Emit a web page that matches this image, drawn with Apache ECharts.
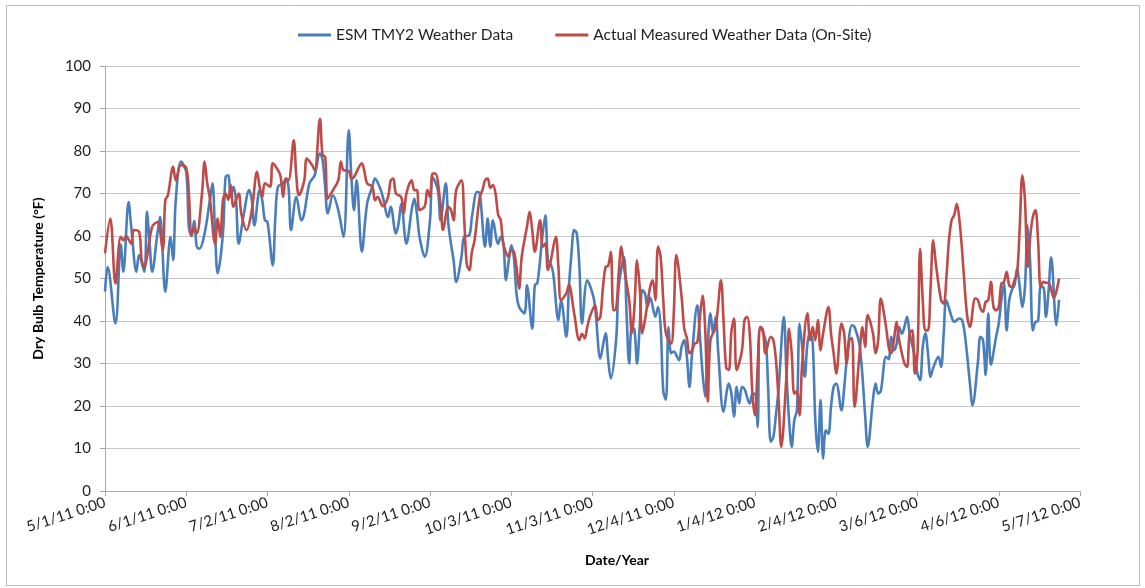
<!DOCTYPE html>
<html>
<head>
<meta charset="utf-8">
<title>Dry Bulb Temperature Comparison</title>
<script src="https://cdn.jsdelivr.net/npm/echarts@6/dist/echarts.min.js"></script>
<style>
  html, body { margin: 0; padding: 0; background: #ffffff; }
  #chart { width: 1145px; height: 588px; }
</style>
</head>
<body>
<div id="chart"></div>
<script>
// Days are counted from 1 May 2011 (day 0); the x axis runs in 31-day steps.
const tickLabels = ['5/1/11 0:00', '6/1/11 0:00', '7/2/11 0:00', '8/2/11 0:00', '9/2/11 0:00',
  '10/3/11 0:00', '11/3/11 0:00', '12/4/11 0:00', '1/4/12 0:00', '2/4/12 0:00',
  '3/6/12 0:00', '4/6/12 0:00', '5/7/12 0:00'];
const yTicks = [0, 10, 20, 30, 40, 50, 60, 70, 80, 90, 100];

const seriesNames = ['ESM TMY2 Weather Data', 'Actual Measured Weather Data (On-Site)'];

// ESM TMY2 weather file: day offset and dry bulb temperature (°F)
const tmyDay = [0,1,4,6,7,9,10,12,13,15,16,17,18,20,21,23,25,26,27,29,31,32,33,34,35,36,38,40,41,42,43,45,46,47,48,49,50,51,53,55,56,57,59,60,61,62,64,65,66,68,69,
  70,71,73,75,76,78,80,82,83,84,85,87,89,91,93,94,95,96,98,100,102,103,105,106,108,109,111,112,113,115,117,118,119,120,122,124,125,127,128,130,131,132,133,134,136,137,139,140,
  142,143,145,146,147,148,150,151,152,153,154,155,156,157,158,160,161,163,164,165,167,168,169,170,171,173,174,176,177,178,179,180,181,182,184,186,187,189,190,191,192,193,195,196,198,199,
  200,201,202,203,204,205,206,207,208,210,211,212,213,214,215,216,217,219,220,221,222,223,224,226,227,228,229,230,231,232,233,234,236,238,239,240,241,242,243,244,246,247,248,249,
  250,252,253,254,255,256,257,259,260,261,262,263,264,265,266,267,268,269,270,271,272,273,274,275,276,277,278,279,281,282,283,285,286,288,290,291,293,294,295,296,298,299,
  300,301,302,303,304,305,306,307,309,310,311,312,313,314,315,316,318,319,320,321,323,324,326,327,328,329,330,331,333,334,335,336,337,338,340,341,342,343,344,345,346,347,348,349,
  350,351,352,353,354,355,356,357,358,359,360,361,363,364];
const tmyTemp = [46.9,52.7,39.4,58,51.6,68,62.2,51.6,55.5,51.6,65.7,58.5,51.6,60.6,64.5,46.9,59.8,54.3,68.4,77.5,75,62,60,63.5,57.5,57,60.6,68.4,72.4,60.6,51.2,60.6,73.9,74.3,69.2,71.6,68.4,58.2,65.3,70.8,68.5,62.5,70.8,68.4,63.7,63.3,53.1,64.5,71.6,72.4,73.5,
  71.6,61.4,69.2,63.7,65.3,72.4,74.3,79.4,78,71.6,65.3,69.6,66.1,59.8,84.9,73.9,66.1,73.1,56.3,67.6,71.6,73.5,71.2,69.2,64.5,66.9,60.6,62.9,67.6,58.2,66.1,68.8,65.3,59.8,55.1,63.7,73.9,70.8,63.7,72.4,62.9,58.2,54.3,49.2,55.1,59.8,60.2,64.5,
  70.4,70,57.5,64.1,57.5,63.7,58.2,59.8,58.2,49.6,54,57.8,55,46.5,43.3,41.8,48.4,38.2,48.4,49,60.6,64.9,54.3,53.5,51.2,40.2,44.9,36.3,48,56,61.4,60.6,52.7,39.4,49.6,46.5,43.3,31.2,34.3,37.1,30.8,26.5,35.5,48,55.1,41.8,
  30,38.6,38,30,38.6,47.3,46.5,43.3,45.5,41,43.3,38.6,23.5,21.5,38.6,32.4,32.8,30.8,33.9,35.5,31.6,24.5,32.4,43.7,36.3,27.6,22.2,34.7,41.8,37.1,41,32.4,18.6,25.3,22.9,17.5,24.5,20.6,24.5,24,20.6,22.9,22.9,15,
  38.6,35.5,24.5,11.6,12.7,18,24,41,27.6,16.7,10.4,16.7,19,39.4,33.9,26.9,34.7,37.1,35,16.7,9.2,21.4,7.6,14.3,13.5,19.8,24.5,25.3,19,24,30.8,39,38.6,33.9,18,10.4,21.4,25.3,22.9,23.5,31.6,31,
  36.3,33.1,34.5,38.6,37,38.6,41,37.1,31.6,27.6,26.1,33.9,37.1,32.4,26.9,29,31.6,29.2,37.1,44.9,41,39.8,40.6,40.2,37.1,31.6,25.3,20.2,30,36.3,35.5,27.3,41.8,29.7,36.3,39.4,45,48.8,37.8,44.9,47.3,48.4,52.4,48,
  43.3,48,62.5,53.5,37.8,39.8,40,48,48,41,47,55,39,45];

// On-site measurements: day offset and dry bulb temperature (°F)
const siteDay = [0,2,4,6,7,8,10,11,13,14,15,16,18,20,22,23,24,26,27,29,31,32,33,34,35,37,38,39,40,42,43,44,45,46,47,48,49,51,52,54,56,58,59,60,61,63,64,66,67,68,69,
  70,72,73,74,76,77,79,80,82,83,84,85,87,89,90,91,93,94,95,98,99,100,102,103,104,106,108,109,110,111,113,114,115,117,118,119,120,122,123,124,125,126,128,129,131,132,133,134,136,137,138,139,140,141,
  143,144,145,146,147,148,149,150,151,152,154,155,156,157,158,159,161,162,163,164,166,167,168,169,170,172,173,174,176,177,179,181,182,183,184,185,187,188,189,190,191,192,193,194,195,196,197,198,
  200,201,202,203,204,205,206,208,209,210,211,212,213,214,216,217,218,220,221,222,223,224,225,226,227,228,229,230,231,233,235,236,237,238,239,240,241,243,244,245,246,247,248,249,
  250,251,252,254,255,256,257,258,260,261,262,263,264,265,266,268,269,270,271,272,273,274,276,277,278,279,281,282,283,284,285,286,288,289,290,291,293,294,295,296,298,299,
  300,301,302,303,305,306,307,308,309,310,311,312,313,314,315,316,317,319,320,321,322,323,324,325,326,327,328,329,330,332,333,334,335,336,337,338,339,340,341,342,343,344,345,346,347,348,349,
  350,351,352,353,354,355,356,357,358,359,360,362,364];
const siteTemp = [55.9,64.1,48.8,59.8,59,60,58.2,61.4,61,54.3,52.7,55,62.2,63.3,56.7,68.4,69.6,76.3,73.1,76.7,76,70,60,62,60.6,70,77.5,72.4,69,58.2,64.1,59.8,68.4,70,68.5,72,66.9,70,65.3,61.4,66,75.1,71.6,69.2,72.4,71.6,77.1,75.5,74,69.2,73.5,
  73.1,82.5,74,69.6,73,78.2,76.7,75.5,87.6,79,78.6,68.8,70.8,73.1,77.5,75.5,75.3,73.5,73.9,77.1,75.1,72.4,71.6,68.4,69.2,67,69.2,73.1,73.5,70,69.2,65.3,70,73.1,70.8,70.8,66.1,67,70.8,69.2,74.7,74.7,67.6,61.4,66.9,66.1,63.7,70.8,73.1,64.5,53.5,52,56.3,59,
  69.2,70.8,73.1,73.5,71.3,72,70,65,63.7,58.2,55.1,56.7,56.3,52.7,47.6,55.1,62.2,65.7,61.4,56.3,63.7,57.5,58.2,52,54,59.8,52.7,44.9,46.5,48.5,41.8,35.5,37,35.9,38.6,41,43.7,40.2,41,48,52.7,53,56.3,42.5,42.8,51.2,57.5,52.7,
  44.9,37.1,43.3,54.3,48,37.1,40.2,48,49.6,44.9,57.5,55.1,45,37.1,34.7,41.8,55.5,45.7,38.2,36,32.4,33.1,34.7,35,41,46,38,21,35.5,38.6,49.6,40,29,28.5,37.5,40.6,28.4,33,40.2,41,37,22.9,17.8,29.2,
  38.6,38,32.4,36.3,35.5,30.8,21.4,10.4,26.9,38.2,32.4,22.9,23.5,17.8,30,41.8,35.5,38.6,35.5,40.2,33.1,37.1,43.3,37.1,32.4,27.6,39.4,37.1,30,35.5,36,19.8,33.1,38.6,33.9,41.4,37.1,32.4,35.5,45.3,38.6,33.9,
  32.4,35.5,39.8,35.5,30,29.2,37.1,37.8,27.6,32.4,57,44.9,37.8,37.8,48,59,53.5,44.9,44.1,50,59,63.7,64.9,67.6,63.7,56.7,48,41,38.6,45.3,45,43,42.2,44.5,44.9,49.2,43.3,42.5,43.3,48.8,49.2,51.6,48.4,48,49.6,51.2,62,
  74.3,68.4,52.7,59.8,64.5,66.1,59,48,49.2,49,49,45.5,50];

const pairs = (days, temps) => days.map((d, i) => [d, temps[i]]);

const textColor = '#1f1f1f';
const gridColor = '#c6c6c6';
const font = 'Lato, "Open Sans", "DejaVu Sans", sans-serif';

const chart = echarts.init(document.getElementById('chart'), null, { renderer: 'canvas' });

chart.setOption({
  backgroundColor: '#ffffff',
  animation: false,
  textStyle: { fontFamily: font },
  graphic: [
    {
      type: 'rect',
      shape: { x: 6.5, y: 5.5, width: 1133, height: 580 },
      style: { fill: 'none', stroke: '#bdbdbd', lineWidth: 1 },
      silent: true
    },
    {
      type: 'text',
      x: 617,
      y: 560,
      style: {
        text: 'Date/Year',
        fontFamily: font,
        fontSize: 14,
        fontWeight: 'bold',
        fill: '#000000',
        textAlign: 'center',
        textVerticalAlign: 'middle'
      },
      silent: true
    }
  ],
  legend: {
    top: 22,
    left: 293,
    itemWidth: 33,
    itemHeight: 3,
    itemGap: 42,
    icon: 'rect',
    data: seriesNames,
    textStyle: { fontFamily: font, fontSize: 15.5, color: textColor }
  },
  grid: {
    left: 105,
    right: 65,
    top: 66,
    bottom: 97,
    outerBoundsMode: 'none'
  },
  xAxis: {
    type: 'value',
    min: 0,
    max: 372,
    interval: 31,
    splitLine: { show: false },
    axisLine: { show: true, lineStyle: { color: '#a8a8a8', width: 1 } },
    axisTick: { show: true, length: 5, lineStyle: { color: '#a8a8a8' } },
    axisLabel: {
      rotate: 18,
      margin: 11,
      fontSize: 15,
      color: textColor,
      fontFamily: font,
      showMinLabel: true,
      showMaxLabel: true,
      formatter: (v) => tickLabels[Math.round(v / 31)] || ''
    }
  },
  yAxis: {
    type: 'value',
    min: yTicks[0],
    max: yTicks[yTicks.length - 1],
    interval: 10,
    name: 'Dry Bulb Temperature (°F)',
    nameLocation: 'middle',
    nameGap: 60,
    nameTextStyle: { fontFamily: font, fontSize: 14, fontWeight: 'bold', color: '#000000' },
    axisLine: { show: true, lineStyle: { color: '#a8a8a8', width: 1 } },
    axisTick: { show: true, length: 5, lineStyle: { color: '#a8a8a8' } },
    splitLine: { show: true, lineStyle: { color: gridColor, width: 1 } },
    axisLabel: { fontSize: 15, color: textColor, margin: 14, fontFamily: font }
  },
  series: [
    {
      name: seriesNames[0],
      type: 'line',
      data: pairs(tmyDay, tmyTemp),
      showSymbol: false,
      symbol: 'none',
      smooth: 0.35,
      lineStyle: { color: '#4a7ebb', width: 2.6 },
      itemStyle: { color: '#4a7ebb' },
      z: 2
    },
    {
      name: seriesNames[1],
      type: 'line',
      data: pairs(siteDay, siteTemp),
      showSymbol: false,
      symbol: 'none',
      smooth: 0.35,
      lineStyle: { color: '#be4b48', width: 2.6 },
      itemStyle: { color: '#be4b48' },
      z: 3
    }
  ]
});
</script>
</body>
</html>
